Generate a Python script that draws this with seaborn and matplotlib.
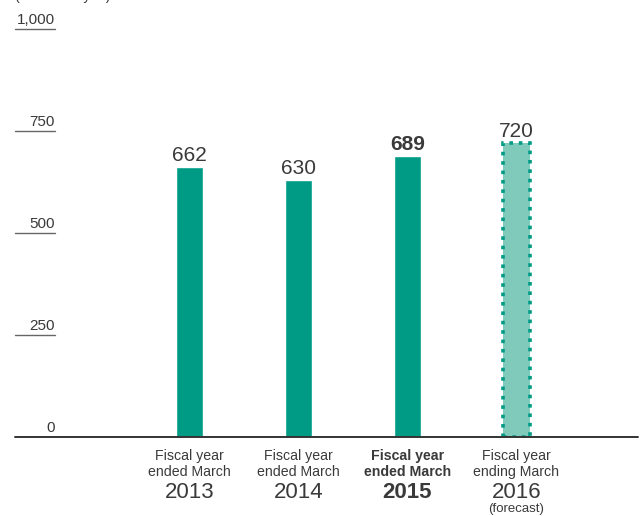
import matplotlib
matplotlib.use("Agg")
import matplotlib.pyplot as plt
import seaborn as sns
import pandas as pd

# Data
categories = ["FY2013", "FY2014", "FY2015", "FY2016"]
values = [662, 630, 689, 720]
label_top = ["Fiscal year", "Fiscal year", "Fiscal year", "Fiscal year"]
label_mid = ["ended March", "ended March", "ended March", "ending March"]
label_year = ["2013", "2014", "2015", "2016"]
label_note = ["", "", "", "(forecast)"]
yticks = [0, 250, 500, 750, 1000]
ytick_labels = ["0", "250", "500", "750", "1,000"]
unit_text = "(Billions of yen)"

TEAL = "#009B84"
TEAL_LIGHT = "#7FCABB"
TEXT = "#3a3a3a"

sns.set_theme(style="white")
plt.rcParams["font.family"] = ["Liberation Sans", "DejaVu Sans"]

W, H = 641, 516
fig = plt.figure(figsize=(W / 100, H / 100), dpi=100)
ax_left, ax_right = 15, 638
ax_bottom, ax_top = 437, 29
ax = fig.add_axes([ax_left / W, (H - ax_bottom) / H,
                   (ax_right - ax_left) / W, (ax_bottom - ax_top) / H])

df = pd.DataFrame({"cat": categories, "val": values})
sns.barplot(data=df, x="cat", y="val", hue="cat",
            palette=[TEAL, TEAL, TEAL, TEAL_LIGHT],
            width=0.25, legend=False, ax=ax, saturation=1)

# forecast bar: light fill with a dotted outline
fc = ax.patches[3]
fc.set_edgecolor(TEAL)
fc.set_linewidth(2.6)
fc.set_linestyle((0, (1, 1.6)))

ax.set_xlim(-1.60, 4.115)
ax.set_ylim(0, 1000)
for s in ax.spines.values():
    s.set_visible(False)
ax.set_xticks([])
ax.set_yticks([])
ax.set_xlabel("")
ax.set_ylabel("")

# baseline
ax.axhline(0, color="#333333", lw=1.4, zorder=5, clip_on=False)
# short tick rules with labels sitting on them
tick_len = 40 / (ax_right - ax_left)
for yv, lab in zip(yticks, ytick_labels):
    if yv > 0:
        ax.axhline(yv, xmin=0, xmax=tick_len, color="#666666", lw=1.0, clip_on=False)
    ax.annotate(lab, xy=(tick_len, yv), xycoords=("axes fraction", "data"),
                xytext=(0, 1.5), textcoords="offset points",
                ha="right", va="bottom", fontsize=11, color=TEXT)

# value labels
for i, v in enumerate(values):
    bold = i == 2
    ax.annotate(f"{v}", xy=(i, v), xytext=(0, 1.5), textcoords="offset points",
                ha="center", va="bottom", fontsize=15,
                fontweight="bold" if bold else "normal", color=TEXT)

# category labels below the baseline
trans = ax.get_xaxis_transform()
for i in range(len(categories)):
    fw = "bold" if i == 2 else "normal"
    ax.annotate(label_top[i], xy=(i, 0), xycoords=trans, xytext=(0, -19),
                textcoords="offset pixels", ha="center", va="center",
                fontsize=10.2, fontweight=fw, color=TEXT)
    ax.annotate(label_mid[i], xy=(i, 0), xycoords=trans, xytext=(0, -35),
                textcoords="offset pixels", ha="center", va="center",
                fontsize=10.2, fontweight=fw, color=TEXT)
    ax.annotate(label_year[i], xy=(i, 0), xycoords=trans, xytext=(0, -56),
                textcoords="offset pixels", ha="center", va="center",
                fontsize=16, fontweight=fw, color=TEXT)
    if label_note[i]:
        ax.annotate(label_note[i], xy=(i, 0), xycoords=trans, xytext=(0, -72),
                    textcoords="offset pixels", ha="center", va="center",
                    fontsize=9.5, color=TEXT)

# unit caption at the very top edge
fig.text(15 / W, 1.0, unit_text, ha="left", va="baseline", fontsize=10, color=TEXT)

fig.savefig("out.png", dpi=100)
